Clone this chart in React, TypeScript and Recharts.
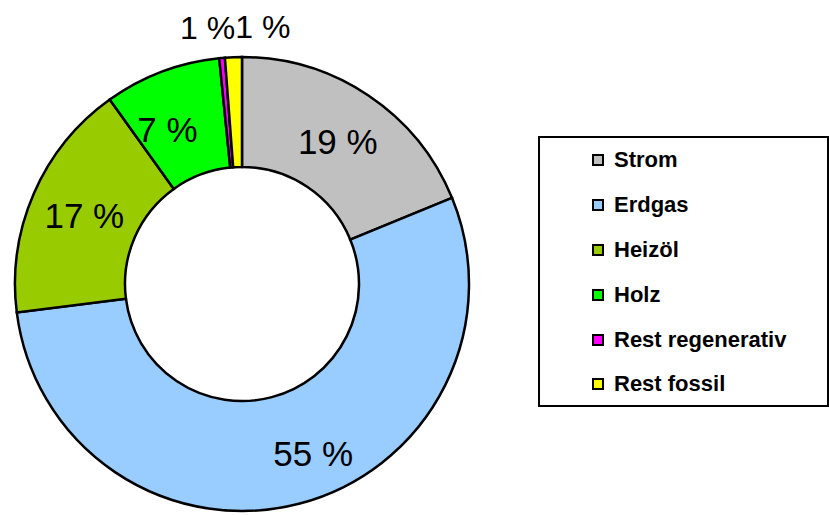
import { PieChart, Pie, Cell, Legend } from 'recharts';

const categories = ['Strom', 'Erdgas', 'Heizöl', 'Holz', 'Rest regenerativ', 'Rest fossil'];
// slice sizes as read from the drawn ring (percent)
const shares = [18.8, 54.2, 17.1, 8.3, 0.4, 1.2];
// percentages as printed on the chart
const printedLabels = ['19 %', '55 %', '17 %', '7 %', '1 %', '1 %'];
const colors = ['#C0C0C0', '#99CCFF', '#99CC00', '#00FF00', '#FF00FF', '#FFFF00'];

const chartData = categories.map((name, i) => ({ name, value: shares[i] }));

const RAD = Math.PI / 180;
const FONT = '"Liberation Sans", Arial, sans-serif';
// small angle nudges (degrees) so labels sit where the original placed them
const labelNudge: Record<number, number> = { 1: 8, 3: 5 };

const renderLabel = (props: any) => {
    const { cx, cy, midAngle, innerRadius, outerRadius, index, percent } = props;
    if (percent < 0.03) {
        // tiny slices get their label above the ring
        const r = outerRadius + 32;
        const x = cx + r * Math.cos(-midAngle * RAD);
        const y = cy + r * Math.sin(-midAngle * RAD);
        const first = index === 4;
        return (
            <text
                x={first ? x + 16 : x + 3}
                y={y + 2}
                textAnchor={first ? 'end' : 'start'}
                dominantBaseline="central"
                fontFamily={FONT}
                fontSize={32}
                fill="#000"
            >
                {printedLabels[index]}
            </text>
        );
    }
    const angle = midAngle + (labelNudge[index] || 0);
    const r = (innerRadius + outerRadius) / 2 + (index === 1 ? 12 : 0);
    const x = cx + r * Math.cos(-angle * RAD);
    const y = cy + r * Math.sin(-angle * RAD);
    return (
        <text x={x} y={y} textAnchor="middle" dominantBaseline="central" fontFamily={FONT} fontSize={35} fill="#000">
            {printedLabels[index]}
        </text>
    );
};

// legend drawn in the chart's own series order
const LegendBox = () => (
    <div
        style={{
            boxSizing: 'border-box',
            width: 291,
            height: 271,
            border: '2px solid #000',
            background: '#fff',
            fontFamily: FONT,
        }}
    >
        {categories.map((name, i) => (
            <div key={name} style={{ height: 44.8, display: 'flex', alignItems: 'center', paddingLeft: 52 }}>
                <span
                    style={{
                        boxSizing: 'border-box',
                        display: 'inline-block',
                        width: 12,
                        height: 12,
                        border: '2.5px solid #000',
                        background: colors[i],
                        marginRight: 10,
                    }}
                />
                <span style={{ fontSize: 22, fontWeight: 'bold', color: '#000', lineHeight: '22px' }}>{name}</span>
            </div>
        ))}
    </div>
);

export default function App() {
    return (
        <div style={{ position: 'absolute', left: 0, top: 0, width: 829, height: 515, background: '#fff' }}>
            <PieChart width={829} height={515} margin={{ top: 0, right: 0, bottom: 0, left: 0 }}>
                <Pie
                    data={chartData}
                    dataKey="value"
                    nameKey="name"
                    cx={242}
                    cy={284}
                    innerRadius={117}
                    outerRadius={227}
                    startAngle={90}
                    endAngle={-270}
                    stroke="#000"
                    strokeWidth={2.5}
                    label={renderLabel}
                    labelLine={false}
                    isAnimationActive={false}
                >
                    {chartData.map((d, i) => (
                        <Cell key={d.name} fill={colors[i]} />
                    ))}
                </Pie>
                <Legend
                    layout="vertical"
                    verticalAlign="middle"
                    align="right"
                    content={<LegendBox />}
                    wrapperStyle={{ left: 538, top: 136, right: 'auto', width: 291, height: 271 }}
                />
            </PieChart>
        </div>
    );
}
